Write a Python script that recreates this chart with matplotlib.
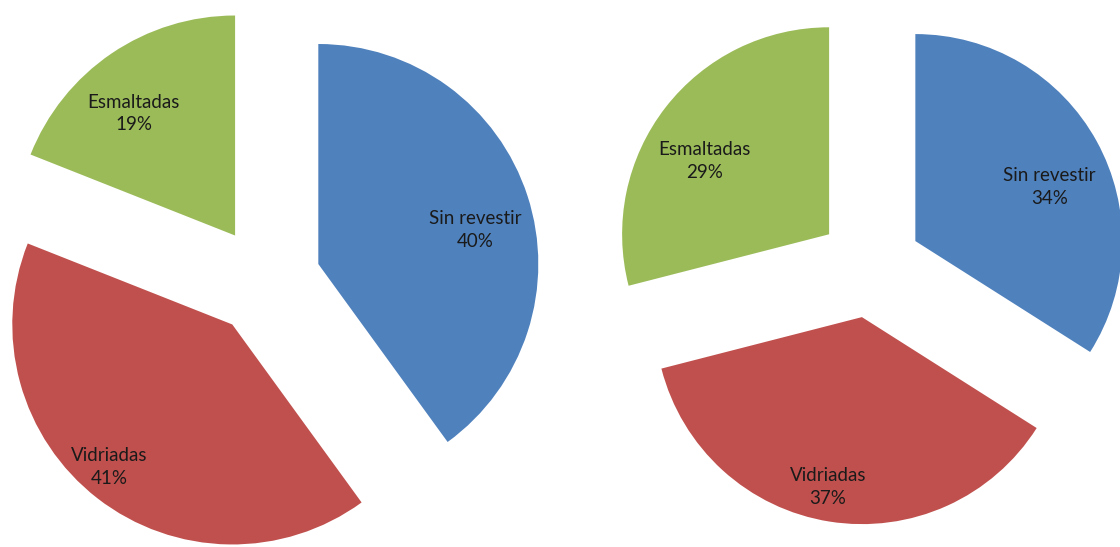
import numpy as np
import matplotlib
matplotlib.use("Agg")
import matplotlib.pyplot as plt

CATEGORIES = ["Sin revestir", "Vidriadas", "Esmaltadas"]
LEFT_VALUES = [40, 41, 19]
RIGHT_VALUES = [34, 37, 29]

COLORS = ["#4F81BD", "#C0504D", "#9BBB59"]
TEXT_COLOR = "#1a1a1a"
W, H = 1120, 547

# center, radius, explode (fraction of radius), label distance / angle tweak per slice
# everything in pixel space, y up
LEFT_STYLE = dict(center=(266, 266), radius=220, explode=0.25,
                  label_frac=[0.73, 0.856, 0.72], label_dang=[-5.8, -3.1, 5.5])
RIGHT_STYLE = dict(center=(870, 281), radius=207, explode=0.25,
                   label_frac=[0.70, 0.837, 0.70], label_dang=[-6.8, -2.3, 7.4])


def draw_pie(ax, values, style):
    r = style["radius"]
    # pie's explode is in data units, not a fraction of the radius
    wedges, _ = ax.pie(values, colors=COLORS, explode=[style["explode"] * r] * len(values),
                       radius=r, center=style["center"], startangle=90,
                       counterclock=False, wedgeprops=dict(linewidth=0))
    total = sum(values)
    for w, cat, v, frac, dang in zip(wedges, CATEGORIES, values,
                                     style["label_frac"], style["label_dang"]):
        mid = np.deg2rad((w.theta1 + w.theta2) / 2 + dang)
        cx, cy = w.center
        x = cx + w.r * frac * np.cos(mid)
        y = cy + w.r * frac * np.sin(mid)
        ax.text(x, y, f"{cat}\n{round(100 * v / total)}%", ha="center", va="center",
                fontsize=13.5, family="Lato", color=TEXT_COLOR, linespacing=1.4)


fig = plt.figure(figsize=(W / 100, H / 100), dpi=100, facecolor="white")
ax = fig.add_axes([0, 0, 1, 1])
draw_pie(ax, LEFT_VALUES, LEFT_STYLE)
draw_pie(ax, RIGHT_VALUES, RIGHT_STYLE)
ax.set_xlim(0, W)
ax.set_ylim(0, H)
ax.set_aspect("equal")
ax.axis("off")
fig.savefig("out.png", dpi=100, facecolor="white")
